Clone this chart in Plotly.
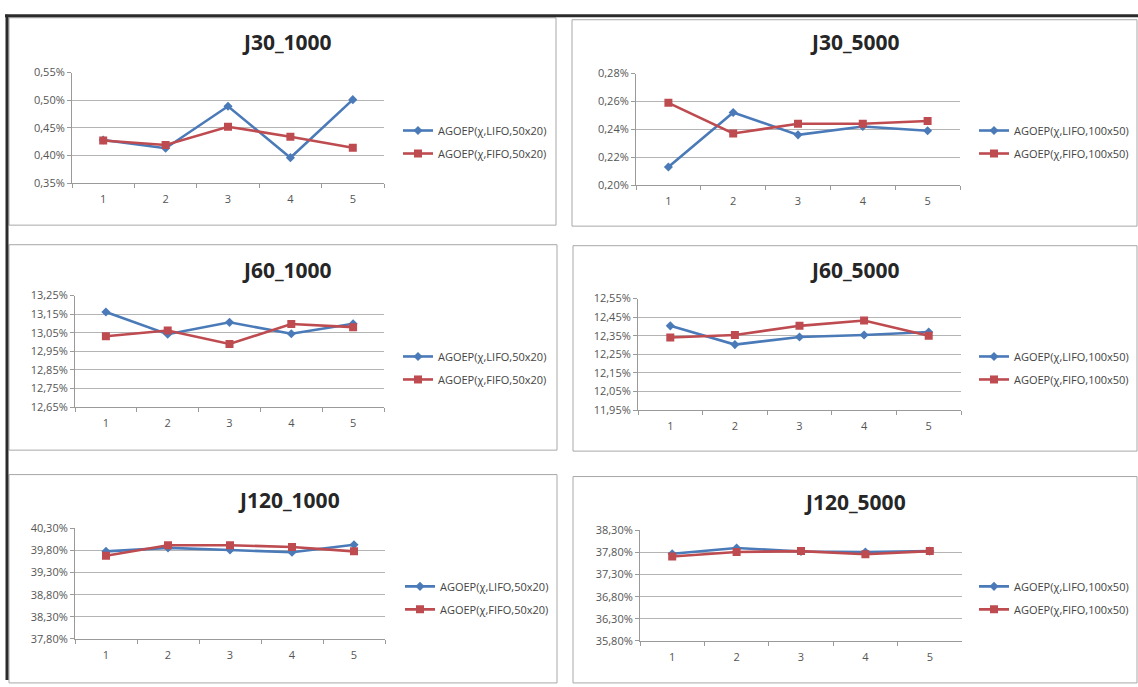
import plotly.graph_objects as go

W, H = 1138, 687

categories = ["1", "2", "3", "4", "5"]

titles = ["J30_1000", "J30_5000", "J60_1000", "J60_5000", "J120_1000", "J120_5000"]

lifo_names = ["AGOEP(χ,LIFO,50x20)", "AGOEP(χ,LIFO,100x50)",
              "AGOEP(χ,LIFO,50x20)", "AGOEP(χ,LIFO,100x50)",
              "AGOEP(χ,LIFO,50x20)", "AGOEP(χ,LIFO,100x50)"]
fifo_names = ["AGOEP(χ,FIFO,50x20)", "AGOEP(χ,FIFO,100x50)",
              "AGOEP(χ,FIFO,50x20)", "AGOEP(χ,FIFO,100x50)",
              "AGOEP(χ,FIFO,50x20)", "AGOEP(χ,FIFO,100x50)"]

# values in percent
lifo_j30_1000 = [0.428, 0.413, 0.489, 0.396, 0.501]
fifo_j30_1000 = [0.427, 0.419, 0.452, 0.434, 0.414]
lifo_j30_5000 = [0.213, 0.252, 0.236, 0.242, 0.239]
fifo_j30_5000 = [0.259, 0.237, 0.244, 0.244, 0.246]
lifo_j60_1000 = [13.162, 13.042, 13.106, 13.045, 13.098]
fifo_j60_1000 = [13.031, 13.062, 12.990, 13.097, 13.080]
lifo_j60_5000 = [12.403, 12.302, 12.343, 12.354, 12.370]
fifo_j60_5000 = [12.340, 12.354, 12.403, 12.432, 12.350]
lifo_j120_1000 = [39.78, 39.86, 39.81, 39.76, 39.93]
fifo_j120_1000 = [39.68, 39.92, 39.92, 39.88, 39.78]
lifo_j120_5000 = [37.77, 37.90, 37.82, 37.81, 37.83]
fifo_j120_5000 = [37.71, 37.81, 37.83, 37.76, 37.83]

yticks_j30_1000 = [0.35, 0.40, 0.45, 0.50, 0.55]
yticks_j30_5000 = [0.20, 0.22, 0.24, 0.26, 0.28]
yticks_j60_1000 = [12.65, 12.75, 12.85, 12.95, 13.05, 13.15, 13.25]
yticks_j60_5000 = [11.95, 12.05, 12.15, 12.25, 12.35, 12.45, 12.55]
yticks_j120_1000 = [37.80, 38.30, 38.80, 39.30, 39.80, 40.30]
yticks_j120_5000 = [35.80, 36.30, 36.80, 37.30, 37.80, 38.30]

lifo_series = [lifo_j30_1000, lifo_j30_5000, lifo_j60_1000, lifo_j60_5000, lifo_j120_1000, lifo_j120_5000]
fifo_series = [fifo_j30_1000, fifo_j30_5000, fifo_j60_1000, fifo_j60_5000, fifo_j120_1000, fifo_j120_5000]
yticks = [yticks_j30_1000, yticks_j30_5000, yticks_j60_1000, yticks_j60_5000, yticks_j120_1000, yticks_j120_5000]

# layout geometry (pixels)
plot_boxes = [(72, 384, 66, 179), (636, 960, 67, 181),
              (75, 384, 294, 408), (638, 961, 297, 411),
              (75, 385, 532, 645), (640, 962, 534, 647)]
panel_boxes = [(9, 556, 10, 222), (572, 1137, 12, 223),
               (9, 557, 242, 452), (573, 1137, 243, 453),
               (9, 557, 477, 690), (573, 1137, 479, 690)]
title_pos = [(287, 35), (855, 35), (287, 268), (855, 268), (289, 503), (855, 505)]
legend_pos = [(398, 137), (974, 137), (398, 368), (974, 368), (400, 603), (974, 603)]

BLUE = "#4a7ab8"
RED = "#be4b50"
FONT = "Open Sans"

def px_x(v):
    return v / W

def px_y(v):
    return 1 - v / H

def pct_label(v):
    return f"{v:.2f}".replace(".", ",") + "%"

fig = go.Figure()
shapes = []
annotations = []
layout = {}

for i in range(6):
    n = "" if i == 0 else str(i + 1)
    lg = "legend" if i == 0 else "legend" + str(i + 1)
    fig.add_trace(go.Scatter(
        x=categories, y=lifo_series[i], name=lifo_names[i], mode="lines+markers",
        line=dict(color=BLUE, width=2.6), marker=dict(symbol="diamond", size=7, color=BLUE),
        xaxis="x" + n, yaxis="y" + n, legend=lg, legendgroup="a" + str(i)))
    fig.add_trace(go.Scatter(
        x=categories, y=fifo_series[i], name=fifo_names[i], mode="lines+markers",
        line=dict(color=RED, width=2.6), marker=dict(symbol="square", size=8, color=RED),
        xaxis="x" + n, yaxis="y" + n, legend=lg, legendgroup="b" + str(i)))

    x0, x1, y0, y1 = plot_boxes[i]
    tv = yticks[i]
    span = tv[-1] - tv[0]
    layout["xaxis" + n] = dict(
        domain=[px_x(x0), px_x(x1)], anchor="y" + n, type="category",
        range=[-0.5, 4.5], showgrid=False, showline=True, linecolor="#9a9a9a", linewidth=1,
        ticks="outside", ticklen=4, tickcolor="#9a9a9a", tickson="boundaries",
        tickfont=dict(family=FONT, size=11, color="#555555"), ticklabelstandoff=6,
        fixedrange=True, zeroline=False)
    layout["yaxis" + n] = dict(
        domain=[px_y(y1), px_y(y0)], anchor="x" + n,
        range=[tv[0] - span * 1e-6, tv[-1] + span * 1e-6],
        tickmode="array", tickvals=tv, ticktext=[pct_label(v) for v in tv],
        showgrid=True, gridcolor="#b4b4b4", gridwidth=1,
        showline=True, linecolor="#9a9a9a", linewidth=1, ticks="outside", ticklen=4,
        tickcolor="#9a9a9a", tickfont=dict(family=FONT, size=11, color="#555555"),
        zeroline=False, fixedrange=True)

    lx, ly = legend_pos[i]
    layout[lg] = dict(
        x=px_x(lx), y=px_y(ly), xanchor="left", yanchor="middle",
        bgcolor="rgba(0,0,0,0)", borderwidth=0, traceorder="grouped", tracegroupgap=4,
        font=dict(family=FONT, size=11, color="#444444"), itemwidth=30)

    bx0, bx1, by0, by1 = panel_boxes[i]
    shapes.append(dict(type="rect", xref="paper", yref="paper",
                       x0=px_x(bx0), x1=px_x(bx1), y0=px_y(by1), y1=px_y(by0),
                       line=dict(color="#a8a8a8", width=1), fillcolor="rgba(0,0,0,0)", layer="below"))

    tx, ty = title_pos[i]
    annotations.append(dict(text="<b>" + titles[i] + "</b>", xref="paper", yref="paper",
                            x=px_x(tx), y=px_y(ty), xanchor="center", yanchor="middle",
                            showarrow=False, font=dict(family=FONT, size=21, color="#262626")))

# dark scan edges (top and left)
shapes.append(dict(type="line", xref="paper", yref="paper", x0=px_x(5), x1=1,
                   y0=px_y(8), y1=px_y(8), line=dict(color="#2b2b2b", width=3)))
shapes.append(dict(type="line", xref="paper", yref="paper", x0=px_x(7), x1=px_x(7),
                   y0=px_y(7), y1=0, line=dict(color="#2b2b2b", width=3)))

fig.update_layout(
    width=W, height=H, autosize=False, margin=dict(l=0, r=0, t=0, b=0),
    paper_bgcolor="white", plot_bgcolor="white",
    shapes=shapes, annotations=annotations, showlegend=True, **layout)

fig.write_html("out.html")
